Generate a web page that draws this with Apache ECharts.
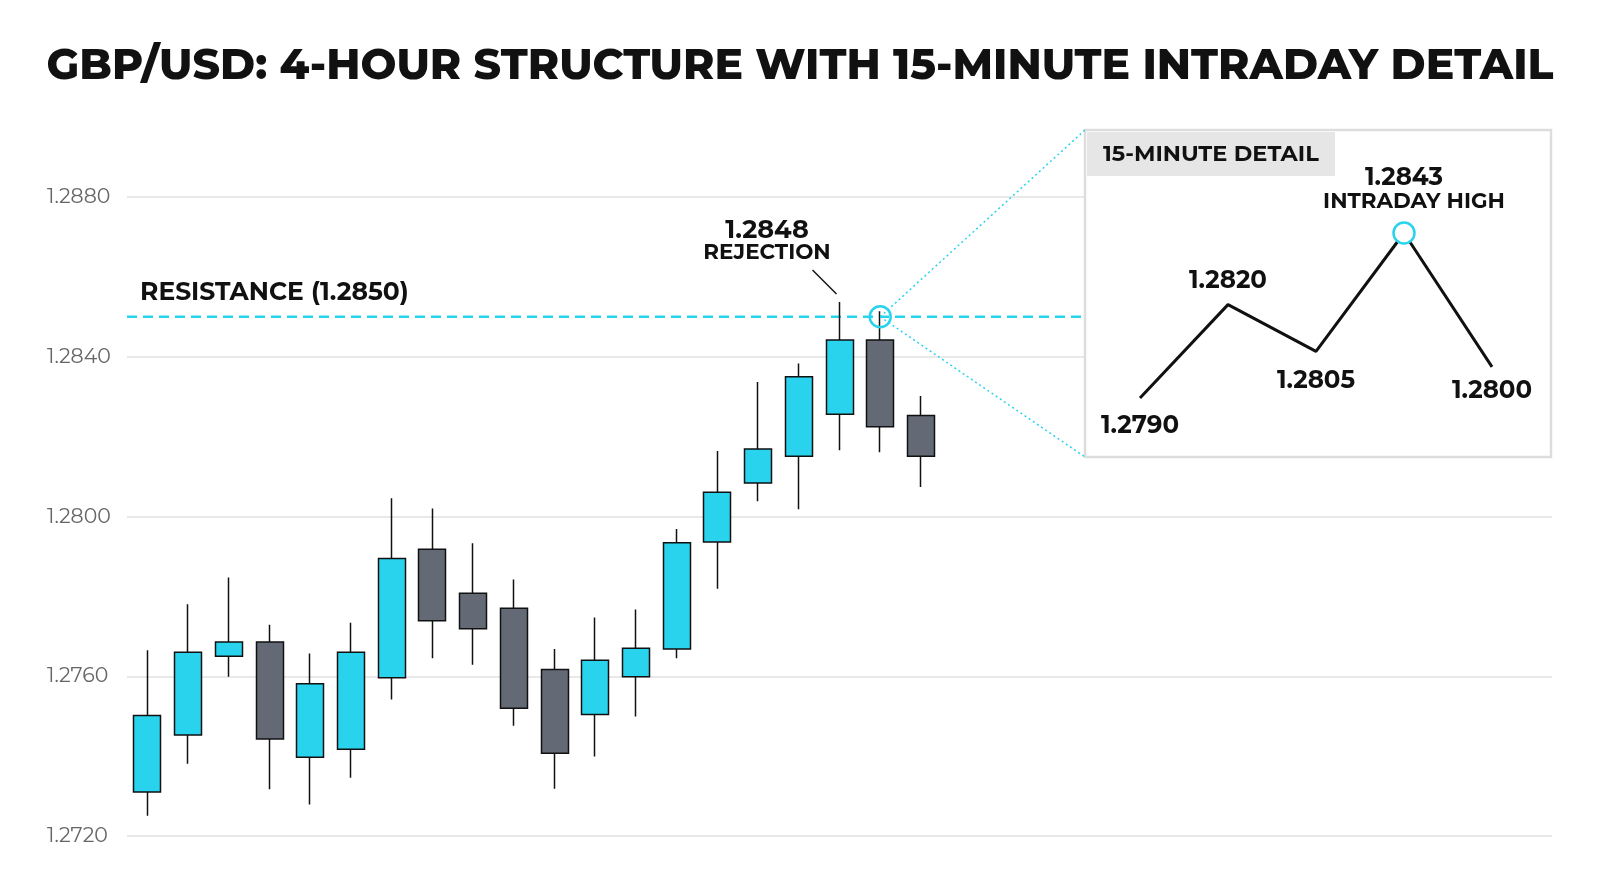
<!DOCTYPE html>
<html><head><meta charset="utf-8">
<script src="https://cdn.jsdelivr.net/npm/echarts@6/dist/echarts.min.js"></script>
<style>html,body{margin:0;padding:0;background:#fff}#c{width:1600px;height:893px}</style>
</head><body><div id="c"></div>
<script>
// 4-hour candles: [open, close, low, high]
const candles = [
 [1.27310,1.27502,1.27251,1.27665],
 [1.27453,1.27660,1.27381,1.27780],
 [1.27650,1.27686,1.27599,1.27847],
 [1.27686,1.27443,1.27317,1.27729],
 [1.27397,1.27581,1.27279,1.27657],
 [1.27417,1.27660,1.27346,1.27734],
 [1.27596,1.27895,1.27542,1.28046],
 [1.27918,1.27739,1.27645,1.28020],
 [1.27808,1.27719,1.27629,1.27933],
 [1.27770,1.27520,1.27476,1.27842],
 [1.27617,1.27407,1.27318,1.27668],
 [1.27504,1.27640,1.27399,1.27747],
 [1.27599,1.27670,1.27499,1.27767],
 [1.27668,1.27934,1.27645,1.27969],
 [1.27936,1.28061,1.27819,1.28164],
 [1.28084,1.28169,1.28038,1.28337],
 [1.28151,1.28350,1.28018,1.28383],
 [1.28256,1.28442,1.28166,1.28537],
 [1.28442,1.28225,1.28161,1.28514],
 [1.28253,1.28151,1.28074,1.28302]
];
const categories = Array.from({length:35},(_,i)=>'C'+(i+1));
const resistance = 1.2850;
const rejectionIndex = 18;
const detailX = [0,1,2,3,4];
const detailY = [1.2790,1.2820,1.2805,1.2843,1.2800];
const CY='#29d3ee', GR='#636a75';
const F='Montserrat, Inter, "Noto Sans", sans-serif';
const chart = echarts.init(document.getElementById('c'));
const lblPos = [
 {position:'bottom',distance:15},
 {position:'top',distance:11},
 {position:'bottom',distance:16},
 {position:'top',distance:42},
 {position:'bottom',distance:11}
];
chart.setOption({
 animation:false,
 title:{text:'GBP/USD: 4-HOUR STRUCTURE WITH 15-MINUTE INTRADAY DETAIL',left:'center',top:40,
  textStyle:{fontFamily:F,fontWeight:800,fontSize:42.5,color:'#111'}},
 grid:[{left:127,right:48,top:197,bottom:57},{left:1140,width:352,top:233,height:165}],
 xAxis:[{type:'category',data:categories,show:false,boundaryGap:true},
  {type:'value',gridIndex:1,min:0,max:4,show:false}],
 yAxis:[{type:'value',min:1.272,max:1.288,interval:0.004,
   axisLine:{show:false},axisTick:{show:false},
   axisLabel:{formatter:v=>v.toFixed(4),color:'#666',fontSize:20.5,fontFamily:F,margin:80,align:'left'},
   splitLine:{lineStyle:{color:'#e2e2e2',width:1.5}}},
  {type:'value',gridIndex:1,min:1.2790,max:1.2843,show:false}],
 series:[
  {type:'candlestick',data:candles,barWidth:27.5,z:3,
   itemStyle:{color:CY,color0:GR,borderColor:'#111',borderColor0:'#111',borderWidth:1.5}},
  {type:'line',xAxisIndex:1,yAxisIndex:1,data:detailX.map((x,i)=>[x,detailY[i]]),z:20,
   symbol:'none',lineStyle:{color:'#111',width:3}},
  {type:'scatter',xAxisIndex:1,yAxisIndex:1,z:21,symbolSize:1,itemStyle:{color:'rgba(0,0,0,0)',opacity:1},
   data:detailX.map((x,i)=>({value:[x,detailY[i]],label:Object.assign({show:true,formatter:detailY[i].toFixed(4),
     color:'#111',opacity:1,fontFamily:F,fontWeight:700,fontSize:24.5},lblPos[i])}))}
 ]
});
const pR = chart.convertToPixel({xAxisIndex:0,yAxisIndex:0},[rejectionIndex,resistance]);
const pTop = chart.convertToPixel({xAxisIndex:0,yAxisIndex:0},[rejectionIndex-1,candles[rejectionIndex-1][3]]);
const pPk = chart.convertToPixel({xAxisIndex:1,yAxisIndex:1},[3,1.2843]);
const bx=1085,by=130,bw=466,bh=327;
chart.setOption({graphic:[
 {type:'line',z:1,shape:{x1:127,y1:pR[1],x2:bx,y2:pR[1]},style:{stroke:CY,lineWidth:2.5,lineDash:[10,6]}},
 {type:'text',z:5,left:140,top:pR[1]-37,style:{text:'RESISTANCE (1.2850)',font:'700 25px '+F,fill:'#111'}},
 {type:'text',z:5,x:767,y:pTop[1]-85,style:{text:'1.2848',font:'700 25.5px '+F,fill:'#111',align:'center'}},
 {type:'text',z:5,x:767,y:pTop[1]-60,style:{text:'REJECTION',font:'700 21.5px '+F,fill:'#111',align:'center'}},
 {type:'line',z:5,shape:{x1:pTop[0]-27,y1:pTop[1]-32,x2:pTop[0]-3,y2:pTop[1]-8},style:{stroke:'#111',lineWidth:1.5}},
 {type:'line',z:5,shape:{x1:pR[0],y1:pR[1],x2:bx,y2:by},style:{stroke:CY,lineWidth:1.5,lineDash:[2,3]}},
 {type:'line',z:5,shape:{x1:pR[0],y1:pR[1],x2:bx,y2:by+bh},style:{stroke:CY,lineWidth:1.5,lineDash:[2,3]}},
 {type:'circle',z:6,shape:{cx:pR[0],cy:pR[1],r:10.5},style:{fill:'rgba(255,255,255,0)',stroke:CY,lineWidth:2.5}},
 {type:'rect',z:2,shape:{x:bx,y:by,width:bw,height:bh},style:{fill:'#fff',stroke:'#ddd',lineWidth:2.5}},
 {type:'rect',z:3,shape:{x:bx+2,y:by+2,width:248,height:44},style:{fill:'#e6e6e6'}},
 {type:'text',z:4,x:1103,y:154,style:{text:'15-MINUTE DETAIL',font:'700 22.5px '+F,fill:'#111',verticalAlign:'middle'}},
 {type:'text',z:30,x:pPk[0]+10,y:pPk[1]-31,style:{text:'INTRADAY HIGH',font:'700 21.5px '+F,fill:'#111',align:'center',verticalAlign:'middle'}},
 {type:'circle',z:40,shape:{cx:pPk[0],cy:pPk[1],r:10.5},style:{fill:'#fff',stroke:CY,lineWidth:2.5}}
]});
</script></body></html>
